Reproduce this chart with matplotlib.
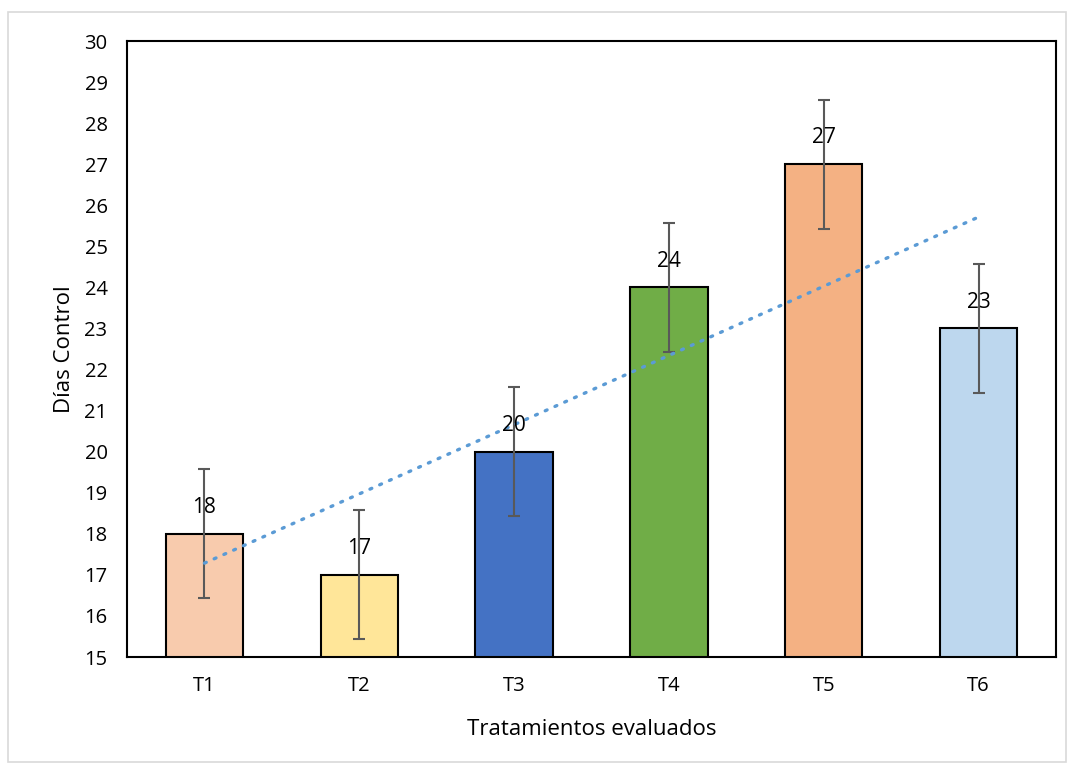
import numpy as np
import matplotlib
matplotlib.use("Agg")
import matplotlib.pyplot as plt
from matplotlib.patches import Rectangle

plt.rcParams['font.family'] = ['Open Sans', 'DejaVu Sans']

tratamientos = ["T1", "T2", "T3", "T4", "T5", "T6"]
dias = [18, 17, 20, 24, 27, 23]
error = [1.57, 1.57, 1.57, 1.57, 1.57, 1.57]
colores = ["#F8CBAD", "#FFE699", "#4472C4", "#70AD47", "#F4B183", "#BDD7EE"]

fig = plt.figure(figsize=(10.7, 7.67), dpi=100)
ax = fig.add_axes([0.1187, 0.1434, 0.8682, 0.8031])

x = np.arange(len(tratamientos))
ax.bar(x, dias, width=0.5, color=colores, edgecolor="black", linewidth=1.5, zorder=2)
ax.errorbar(x, dias, yerr=error, fmt="none", ecolor="#595959", elinewidth=1.5,
            capsize=4.5, capthick=1.5, zorder=3)

# linear trendline like Excel
pend, inter = np.polyfit(x, dias, 1)
ax.plot([x[0], x[-1]], [inter + pend * x[0], inter + pend * x[-1]],
        color="#5B9BD5", lw=2.4, linestyle=(0, (0.6, 2.6)),
        dash_capstyle="round", zorder=4)

for xi, v in zip(x, dias):
    ax.annotate(str(v), (xi, v), xytext=(0, 19), textcoords="offset points",
                ha="center", va="center", fontsize=15, zorder=5)

ax.set_ylim(15, 30)
ax.set_xlim(-0.5, len(x) - 0.5)
ax.set_yticks(range(15, 31))
ax.set_xticks(x)
ax.set_xticklabels(tratamientos)
ax.tick_params(length=0, labelsize=14.5)
ax.tick_params(axis="x", pad=14)
ax.tick_params(axis="y", pad=14)
for s in ax.spines.values():
    s.set_linewidth(1.5)

ax.set_ylabel("Días Control", fontsize=16, labelpad=7)
ax.set_xlabel("Tratamientos evaluados", fontsize=16, labelpad=16)

fig.patches.append(Rectangle((8 / 1070, 5 / 767), 1058 / 1070, 750 / 767,
                             transform=fig.transFigure, fill=False,
                             edgecolor="#D9D9D9", linewidth=1.2))

fig.savefig("out.png", dpi=100)
